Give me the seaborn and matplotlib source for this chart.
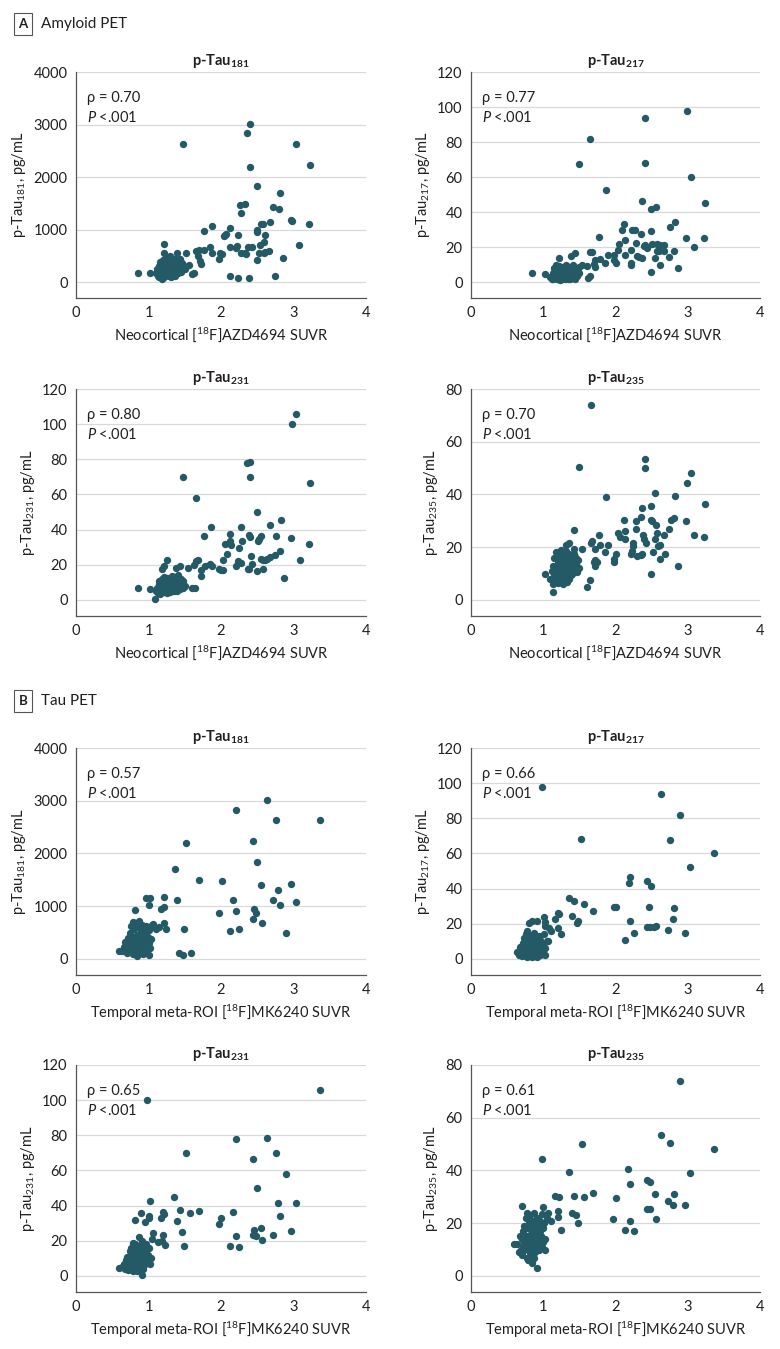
import matplotlib
matplotlib.use("Agg")
import pandas as pd
import matplotlib.pyplot as plt
import seaborn as sns

# ---- values ----
# dense low-SUVR clusters: x shared by subjects within each PET type
amy_cluster_x = [1.10, 1.12, 1.13, 1.14, 1.15, 1.15, 1.16, 1.17, 1.18, 1.18,
                 1.19, 1.20, 1.20, 1.21, 1.21, 1.22, 1.22, 1.23, 1.23, 1.24,
                 1.24, 1.25, 1.25, 1.26, 1.26, 1.27, 1.27, 1.28, 1.28, 1.29,
                 1.29, 1.30, 1.30, 1.31, 1.31, 1.32, 1.32, 1.33, 1.33, 1.34,
                 1.34, 1.35, 1.35, 1.36, 1.37, 1.37, 1.38, 1.38, 1.39, 1.40,
                 1.40, 1.41, 1.42, 1.43, 1.44, 1.45, 1.46, 1.47, 1.48, 1.50]
tau_cluster_x = [0.64, 0.66, 0.68, 0.69, 0.70, 0.71, 0.72, 0.72, 0.73, 0.74,
                 0.74, 0.75, 0.76, 0.76, 0.77, 0.77, 0.78, 0.78, 0.79, 0.79,
                 0.80, 0.80, 0.81, 0.81, 0.82, 0.82, 0.83, 0.83, 0.84, 0.84,
                 0.85, 0.85, 0.86, 0.86, 0.87, 0.87, 0.88, 0.88, 0.89, 0.89,
                 0.90, 0.90, 0.91, 0.91, 0.92, 0.92, 0.93, 0.94, 0.94, 0.95,
                 0.96, 0.96, 0.97, 0.98, 0.99, 1.00, 1.01, 1.02, 1.03, 1.05]

a181_cluster = [180, 250, 120, 300, 90, 220, 380, 160, 270, 60,
                330, 200, 420, 140, 290, 240, 100, 350, 190, 450,
                260, 130, 310, 210, 380, 170, 280, 110, 340, 230,
                500, 150, 260, 320, 90, 400, 200, 270, 140, 360,
                230, 300, 180, 430, 250, 120, 330, 210, 550, 280,
                170, 390, 240, 310, 440, 200, 360, 270, 320, 250]
a217_cluster = [3, 2, 5, 1.5, 4, 8, 2.5, 6, 3.5, 10,
                1.5, 4.5, 7, 2, 5.5, 3, 9, 1, 6.5, 3,
                4, 2, 7.5, 5, 1.5, 3.5, 6, 2.5, 8.5, 4,
                3, 5, 1.5, 7, 2.5, 4.5, 9.5, 3, 6, 2,
                5, 3.5, 7, 4, 1.5, 8, 3, 5.5, 2.5, 6.5,
                4, 10, 3, 5, 2, 7, 4.5, 3.5, 6, 5]
a231_cluster = [5, 7, 4, 9, 6, 11, 3.5, 8, 6.5, 12,
                5, 9.5, 7, 4.5, 10, 6, 13, 5.5, 8.5, 7,
                11, 4, 9, 6, 12.5, 7.5, 5, 10.5, 8, 6,
                4.5, 9, 11.5, 7, 5.5, 8, 13.5, 6.5, 10, 7,
                9, 5, 12, 8, 6, 10, 7.5, 11, 5, 9,
                8.5, 14, 7, 10, 6, 12, 9, 7, 11, 8]
a235_cluster = [8, 11, 6, 13, 9, 16, 7, 12, 10, 18,
                7.5, 14, 11, 6.5, 15, 9, 17, 10.5, 13, 8,
                19, 12, 7, 15.5, 11, 9.5, 14, 6, 16.5, 12.5,
                10, 13.5, 8.5, 18.5, 11.5, 9, 15, 12, 7, 14.5,
                10, 17.5, 13, 8, 16, 11, 12, 9.5, 15, 13,
                10, 14, 11.5, 17, 12, 16, 13.5, 10.5, 15, 12]
b181_cluster = [150, 220, 330, 180, 260, 120, 400, 200, 300, 500,
                250, 150, 620, 350, 180, 280, 700, 230, 420, 100,
                310, 560, 190, 260, 680, 140, 380, 240, 50, 450,
                300, 600, 210, 350, 160, 720, 280, 420, 120, 540,
                330, 200, 650, 260, 400, 90, 310, 580, 220, 470,
                180, 620, 350, 250, 420, 300, 550, 200, 380, 640]
b217_cluster = [4, 2, 7, 3, 5, 1.5, 9, 3.5, 6, 12,
                2.5, 5, 14, 4, 1, 7, 16, 3, 8, 2,
                6, 10, 1.5, 4.5, 13, 3, 7.5, 2, 9, 5,
                1, 11, 4, 6.5, 2.5, 15, 3.5, 8, 1.5, 12,
                5, 2, 10, 4, 7, 1, 6, 13, 3, 9,
                2.5, 11, 5.5, 3, 8, 4, 14, 2, 6, 10]
b231_cluster = [5, 7, 4, 9, 6, 11, 3.5, 8, 10, 14,
                6, 8.5, 16, 7, 4, 10, 19, 6.5, 12, 3,
                9, 15, 5, 8, 18, 5.5, 11, 7, 3, 13,
                8, 17, 6, 10, 4.5, 22, 9, 12, 5, 15,
                10, 7, 20, 8.5, 13, 4, 9.5, 17, 6, 14,
                7.5, 18, 11, 8, 12, 9, 16, 7, 10, 21]
b235_cluster = [12, 9, 15, 10, 14, 8, 17, 11, 13, 19,
                10, 12, 22, 14, 7, 15, 24, 11, 18, 6,
                13, 20, 9, 14, 23, 8, 16, 12, 5, 18,
                11, 21, 10, 15, 7, 24, 13, 17, 9, 20,
                14, 11, 22, 12, 16, 3, 13, 19, 10, 17,
                12, 21, 15, 11, 18, 13, 20, 10, 14, 22]

# remaining points (SUVR, pg/mL)
a181_pts = [(0.86, 180), (1.02, 170), (1.22, 730), (1.22, 560), (1.48, 2630), (1.52, 560),
            (1.56, 330), (1.60, 160), (1.63, 180), (1.65, 600), (1.68, 500), (1.69, 610),
            (1.71, 410), (1.72, 350), (1.77, 980), (1.77, 610), (1.85, 660), (1.87, 1070),
            (1.88, 560), (1.97, 440), (1.98, 560), (2.01, 540), (2.04, 870), (2.05, 900),
            (2.07, 920), (2.12, 660), (2.12, 120), (2.13, 1020), (2.20, 640), (2.22, 680),
            (2.23, 80), (2.24, 890), (2.26, 1470), (2.27, 1310), (2.27, 560), (2.33, 1490),
            (2.33, 560), (2.35, 530), (2.36, 2830), (2.37, 660), (2.38, 80), (2.40, 3010),
            (2.40, 2200), (2.43, 670), (2.49, 1830), (2.49, 1000), (2.49, 950), (2.49, 420),
            (2.52, 560), (2.54, 700), (2.55, 1100), (2.58, 1110), (2.59, 760), (2.59, 560),
            (2.60, 900), (2.61, 580), (2.66, 600), (2.67, 1150), (2.72, 1430), (2.75, 110),
            (2.80, 1400), (2.82, 1700), (2.85, 450), (2.96, 1190), (2.98, 1160), (3.03, 2630),
            (3.08, 700), (3.21, 1110), (3.23, 2230)]
a217_pts = [(0.85, 5), (1.02, 4.5), (1.22, 14), (1.38, 15), (1.44, 16.5), (1.49, 67.5),
            (1.50, 8.5), (1.53, 9.5), (1.60, 9), (1.62, 2.5), (1.65, 3.5), (1.65, 17),
            (1.68, 17), (1.65, 82), (1.70, 10.5), (1.72, 12.5), (1.72, 8.5), (1.77, 26),
            (1.78, 13), (1.86, 11), (1.87, 52.5), (1.89, 15.5), (1.98, 15.5), (1.98, 12.5),
            (2.00, 11), (2.04, 18.5), (2.05, 21.5), (2.09, 29.5), (2.12, 33), (2.13, 24),
            (2.13, 15.5), (2.21, 11), (2.22, 10), (2.22, 18.5), (2.23, 30), (2.27, 30),
            (2.29, 22.5), (2.30, 15), (2.33, 14.5), (2.35, 27.5), (2.36, 14), (2.37, 46.5),
            (2.40, 20.5), (2.41, 94), (2.41, 68), (2.41, 21), (2.43, 19.5), (2.49, 41.5),
            (2.49, 29), (2.50, 22), (2.49, 6), (2.54, 14), (2.56, 43), (2.57, 17.5),
            (2.58, 21.5), (2.60, 17.5), (2.61, 21), (2.62, 10), (2.67, 21), (2.67, 18),
            (2.74, 14.5), (2.76, 31.5), (2.81, 18), (2.83, 34.5), (2.87, 8), (2.97, 25),
            (2.99, 98), (3.05, 60), (3.09, 20), (3.22, 25), (3.24, 45)]
a231_pts = [(0.85, 7), (1.02, 6), (1.09, 0.5), (1.19, 17.5), (1.22, 19.5), (1.25, 23),
            (1.38, 18), (1.43, 19.5), (1.48, 70), (1.54, 18), (1.60, 7), (1.64, 7),
            (1.63, 20), (1.65, 58), (1.66, 22), (1.68, 23), (1.72, 17), (1.73, 13.5),
            (1.76, 36.5), (1.78, 19.5), (1.85, 20.5), (1.86, 41.5), (1.88, 19.5), (1.97, 17.5),
            (2.00, 17), (2.03, 17), (2.03, 23), (2.05, 32), (2.08, 26), (2.12, 37.5),
            (2.13, 33.5), (2.14, 31), (2.20, 19.5), (2.23, 22), (2.25, 29.5), (2.27, 21),
            (2.28, 41.5), (2.29, 33.5), (2.36, 78), (2.37, 17.5), (2.38, 37), (2.39, 17.5),
            (2.40, 78.5), (2.40, 70), (2.40, 36), (2.41, 25), (2.43, 20.5), (2.49, 16.5),
            (2.50, 50), (2.51, 33.5), (2.52, 34.5), (2.55, 36.5), (2.55, 23.5), (2.58, 23),
            (2.58, 17.5), (2.61, 23), (2.63, 23.5), (2.68, 24.5), (2.68, 42.5), (2.74, 25.5),
            (2.76, 36.5), (2.81, 28), (2.83, 45.5), (2.87, 12.5), (2.97, 35), (2.98, 100),
            (3.04, 106), (3.09, 23), (3.22, 32), (3.23, 66.5)]
a235_pts = [(1.02, 10), (1.14, 3), (1.32, 21), (1.35, 21.5), (1.42, 26.5), (1.42, 19.5),
            (1.43, 17.5), (1.49, 50.5), (1.54, 19.5), (1.61, 5), (1.65, 7.5), (1.66, 21.5),
            (1.66, 74), (1.68, 22.5), (1.70, 14.5), (1.72, 15), (1.72, 13), (1.72, 19.5),
            (1.75, 14.5), (1.77, 24.5), (1.79, 21), (1.86, 18), (1.87, 39), (1.89, 21),
            (1.98, 15.5), (1.98, 14.5), (2.00, 17.5), (2.04, 25.5), (2.06, 24), (2.12, 30.5),
            (2.13, 26), (2.13, 23), (2.22, 17.5), (2.23, 18.5), (2.24, 21.5), (2.24, 20.5),
            (2.28, 30), (2.29, 27), (2.30, 16.5), (2.35, 17), (2.35, 31.5), (2.37, 17.5),
            (2.37, 35), (2.38, 24.5), (2.40, 23), (2.41, 53.5), (2.41, 50), (2.42, 21.5),
            (2.49, 35.5), (2.49, 30.5), (2.50, 30), (2.49, 10), (2.52, 18), (2.55, 40.5),
            (2.55, 23), (2.56, 28.5), (2.58, 25.5), (2.59, 20.5), (2.62, 21), (2.62, 15.5),
            (2.67, 24.5), (2.69, 17.5), (2.74, 27), (2.77, 30.5), (2.81, 31), (2.83, 39.5),
            (2.87, 13), (2.97, 30), (2.99, 44.5), (3.05, 48), (3.09, 24.5), (3.22, 24),
            (3.24, 36.5)]
b181_pts = [(0.59, 160), (0.81, 920), (0.97, 1150), (1.02, 1150), (1.01, 1020), (1.01, 80),
            (1.06, 660), (1.10, 560), (1.14, 600), (1.17, 950), (1.21, 980), (1.22, 1180),
            (1.21, 680), (1.24, 560), (1.36, 1700), (1.39, 1110), (1.42, 120), (1.47, 70),
            (1.49, 560), (1.52, 2200), (1.58, 110), (1.69, 1490), (1.97, 880), (2.01, 1470),
            (2.13, 530), (2.17, 1110), (2.20, 2830), (2.20, 900), (2.25, 560), (2.44, 2240),
            (2.44, 760), (2.46, 940), (2.48, 870), (2.49, 1830), (2.55, 1400), (2.57, 680),
            (2.63, 3010), (2.72, 1120), (2.76, 2630), (2.79, 1310), (2.81, 1020), (2.89, 500),
            (2.97, 1430), (3.03, 1080), (3.37, 2630)]
b217_pts = [(0.80, 20.5), (0.84, 21.5), (0.92, 21.5), (0.98, 98), (1.01, 24), (1.02, 21),
            (1.03, 19), (1.06, 10.5), (1.08, 17.5), (1.11, 16), (1.16, 22.5), (1.20, 26),
            (1.22, 25.5), (1.21, 17.5), (1.24, 14), (1.35, 34.5), (1.40, 24.5), (1.43, 33),
            (1.47, 20.5), (1.48, 21.5), (1.52, 68), (1.57, 31.5), (1.69, 27.5), (1.98, 29.5),
            (2.00, 29.5), (2.13, 11), (2.18, 43), (2.20, 46.5), (2.20, 21.5), (2.25, 14.5),
            (2.44, 44.5), (2.44, 18), (2.46, 29.5), (2.48, 18), (2.49, 41.5), (2.53, 18),
            (2.56, 19), (2.63, 94), (2.72, 16.5), (2.75, 67.5), (2.80, 22.5), (2.81, 29),
            (2.89, 82), (2.96, 14.5), (3.03, 52.5), (3.37, 60)]
b231_pts = [(0.59, 4.5), (0.81, 32), (0.89, 36), (0.91, 0.5), (0.95, 30.5), (0.98, 100),
            (1.00, 34), (1.01, 33), (1.02, 42.5), (1.06, 24.5), (1.13, 19.5), (1.17, 33),
            (1.19, 20), (1.20, 36.5), (1.21, 35), (1.20, 23.5), (1.23, 17.5), (1.35, 45),
            (1.39, 31.5), (1.43, 37.5), (1.46, 25), (1.49, 17), (1.52, 70), (1.57, 36),
            (1.69, 37), (1.97, 29.5), (2.00, 33), (2.13, 17), (2.17, 36.5), (2.20, 78),
            (2.20, 23), (2.25, 16.5), (2.44, 66.5), (2.44, 23.5), (2.46, 26), (2.48, 23),
            (2.49, 50), (2.55, 27.5), (2.57, 20.5), (2.63, 78.5), (2.72, 23.5), (2.76, 70),
            (2.79, 41.5), (2.81, 34), (2.89, 58), (2.97, 25.5), (3.03, 41.5), (3.37, 106)]
b235_pts = [(0.60, 12), (0.71, 26.5), (0.98, 44.5), (0.98, 23.5), (1.00, 26), (1.07, 24),
            (1.11, 21), (1.16, 30.5), (1.20, 22.5), (1.21, 24.5), (1.22, 30), (1.24, 17.5),
            (1.35, 39.5), (1.40, 24), (1.43, 30.5), (1.46, 23), (1.48, 20), (1.53, 50),
            (1.57, 30), (1.69, 31.5), (1.97, 21.5), (2.00, 29.5), (2.13, 17.5), (2.17, 40.5),
            (2.20, 35), (2.20, 21), (2.25, 17), (2.44, 36.5), (2.44, 25.5), (2.48, 35.5),
            (2.48, 25.5), (2.55, 31), (2.56, 21.5), (2.63, 53.5), (2.72, 28.5), (2.75, 50.5),
            (2.79, 27), (2.81, 31), (2.89, 74), (2.96, 27), (3.03, 39), (3.37, 48)]

rho_labels = ["0.70", "0.77", "0.80", "0.70", "0.57", "0.66", "0.65", "0.61"]
markers = ["181", "217", "231", "235"]
amy_xlabel = "Neocortical [$^{18}$F]AZD4694 SUVR"
tau_xlabel = "Temporal meta-ROI [$^{18}$F]MK6240 SUVR"

# ---- style ----
sns.set_style("white")
plt.rcParams["font.family"] = ["Lato", "DejaVu Sans"]
plt.rcParams["mathtext.fontset"] = "custom"
plt.rcParams["mathtext.rm"] = "Lato"
plt.rcParams["mathtext.it"] = "Lato:italic"
plt.rcParams["mathtext.bf"] = "Lato:bold"
DOT = "#245966"
TXT = "#231f20"
FS = 10.5
W, H = 780, 1349


def make_df(cluster_x, cluster_y, pts):
    xs = list(cluster_x) + [p[0] for p in pts]
    ys = list(cluster_y) + [p[1] for p in pts]
    return pd.DataFrame({"suvr": xs, "ptau": ys})


panels = [
    (make_df(amy_cluster_x, a181_cluster, a181_pts), 4000, amy_xlabel),
    (make_df(amy_cluster_x, a217_cluster, a217_pts), 120, amy_xlabel),
    (make_df(amy_cluster_x, a231_cluster, a231_pts), 120, amy_xlabel),
    (make_df(amy_cluster_x, a235_cluster, a235_pts), 80, amy_xlabel),
    (make_df(tau_cluster_x, b181_cluster, b181_pts), 4000, tau_xlabel),
    (make_df(tau_cluster_x, b217_cluster, b217_pts), 120, tau_xlabel),
    (make_df(tau_cluster_x, b231_cluster, b231_pts), 120, tau_xlabel),
    (make_df(tau_cluster_x, b235_cluster, b235_pts), 80, tau_xlabel),
]

col_px = [(76, 290), (471, 289)]
row_px = [(72, 298), (389, 616), (748, 975), (1065, 1292)]

fig = plt.figure(figsize=(W / 100, H / 100), dpi=100)

for i, (df, ymax, xlab) in enumerate(panels):
    r, c = i // 2, i % 2
    left, width = col_px[c]
    top, bottom = row_px[r]
    ax = fig.add_axes([left / W, 1 - bottom / H, width / W, (bottom - top) / H])
    sub = markers[i % 4]
    sns.scatterplot(data=df, x="suvr", y="ptau", ax=ax, color=DOT, s=28,
                    linewidth=0, alpha=1, zorder=3)
    ax.set_xlim(0, 4)
    ax.set_ylim(-ymax * 0.076, ymax)
    ax.set_xticks([0, 1, 2, 3, 4])
    ax.set_yticks(list(range(0, ymax + 1, 1000 if ymax == 4000 else 20)))
    ax.grid(axis="y", color="#d9d9d9", linewidth=0.9, zorder=0)
    for s in ["top", "right"]:
        ax.spines[s].set_visible(False)
    for s in ["left", "bottom"]:
        ax.spines[s].set_color("#555555")
        ax.spines[s].set_linewidth(0.9)
    ax.tick_params(axis="both", labelsize=FS, colors="#555555", labelcolor=TXT,
                   length=3, width=0.8, pad=3)
    ax.set_title(r"p-Tau$_{\mathbf{" + sub + "}}$", fontsize=FS,
                 fontweight="bold", color=TXT, pad=5)
    ax.set_xlabel(xlab, fontsize=FS, color=TXT, labelpad=4)
    ax.set_ylabel("p-Tau$_{" + sub + "}$, pg/mL", fontsize=FS, color=TXT, labelpad=4)
    ax.text(0.038, 0.885, "\u03c1 = " + rho_labels[i], transform=ax.transAxes,
            fontsize=FS, color=TXT, va="center", ha="left")
    ax.text(0.038, 0.80, "$P$ <.001", transform=ax.transAxes,
            fontsize=FS, color=TXT, va="center", ha="left")

# section headers
for letter, title, ypx in [("A", "Amyloid PET", 24), ("B", "Tau PET", 701)]:
    fig.text(23 / W, 1 - ypx / H, letter, fontsize=9.5, fontweight="bold", color=TXT,
             ha="center", va="center",
             bbox=dict(boxstyle="square,pad=0.35", fc="white", ec="#555555", lw=0.8))
    fig.text(41 / W, 1 - ypx / H, title, fontsize=11, color=TXT, ha="left", va="center")

fig.savefig("out.png", dpi=100)
